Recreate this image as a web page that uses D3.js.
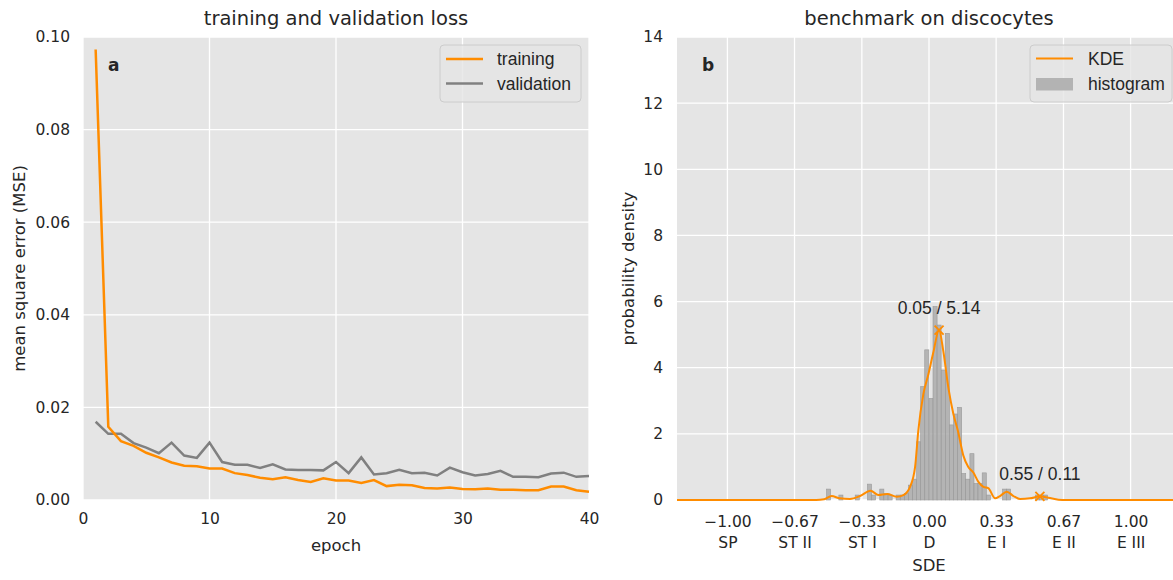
<!DOCTYPE html>
<html>
<head>
<meta charset="utf-8">
<script src="https://cdn.jsdelivr.net/npm/d3@7"></script>
<style>
  body { margin: 0; background: #fff; }
  svg { display: block; }
</style>
</head>
<body>
<svg id="fig" width="1173" height="580"></svg>
<script>
// panel a: loss per epoch
var epochs = [1,2,3,4,5,6,7,8,9,10,11,12,13,14,15,16,17,18,19,20,
              21,22,23,24,25,26,27,28,29,30,31,32,33,34,35,36,37,38,39,40];
var trainingLoss = [0.0973,0.0158,0.0127,0.0117,0.0102,0.0092,0.0081,0.0074,0.0073,0.0068,
                    0.0068,0.0058,0.0054,0.0048,0.0045,0.0049,0.0043,0.0039,0.0047,0.0042,
                    0.0042,0.0037,0.0043,0.0030,0.0033,0.0032,0.0026,0.0025,0.0027,0.0024,
                    0.0023,0.0025,0.0022,0.0022,0.0021,0.0021,0.0029,0.0029,0.0021,0.0018];
var validationLoss = [0.0169,0.0143,0.0143,0.0123,0.0113,0.0101,0.0124,0.0096,0.0091,0.0124,
                      0.0082,0.0076,0.0076,0.0069,0.0077,0.0066,0.0065,0.0065,0.0064,0.0082,
                      0.0058,0.0092,0.0055,0.0058,0.0065,0.0058,0.0059,0.0053,0.0070,0.0060,
                      0.0053,0.0056,0.0063,0.0050,0.0050,0.0049,0.0057,0.0059,0.0050,0.0052];
var lossTicksX = [0,10,20,30,40];
var lossTicksY = [0,0.02,0.04,0.06,0.08,0.10];

// panel b: histogram (bin centers / density) and KDE
var binWidth = 0.0203;
var histCenters = [-0.498,-0.437,-0.356,-0.295,-0.275,-0.234,-0.214,-0.193,-0.153,-0.132,
                   -0.112,-0.092,-0.072,-0.051,-0.031,-0.011,0.010,0.030,0.050,0.071,
                   0.091,0.111,0.132,0.152,0.172,0.192,0.213,0.233,0.253,0.274,
                   0.294,0.375,0.395,0.538,0.558,0.578];
var histDensity = [0.33,0.15,0.15,0.48,0.15,0.33,0.20,0.15,0.15,0.15,
                   0.20,0.45,0.63,1.76,3.43,4.54,3.07,5.85,5.29,3.93,
                   5.04,2.27,2.60,2.80,0.80,0.63,1.40,0.50,0.50,0.82,
                   0.15,0.33,0.33,0.15,0.15,0.15];
var kdeX = [-1.25,-0.56,-0.52,-0.483,-0.443,-0.392,-0.342,-0.290,-0.251,-0.207,
            -0.160,-0.127,-0.094,-0.069,-0.053,-0.028,-0.003,0.021,0.05,0.071,
            0.096,0.121,0.145,0.170,0.195,0.220,0.245,0.270,0.294,0.328,
            0.352,0.386,0.419,0.452,0.501,0.55,0.592,0.642,0.68,1.25];
var kdeY = [0,0,0.02,0.12,0.05,0.03,0.12,0.28,0.15,0.18,
            0.10,0.15,0.40,1.0,2.1,3.2,3.8,4.45,5.14,4.5,
            3.4,2.6,2.05,1.35,1.0,0.83,0.55,0.40,0.36,0.05,
            0.12,0.25,0.12,0.03,0.05,0.11,0.07,0.01,0,0];
var peaks = [{x: 0.05, y: 5.14, label: "0.05 / 5.14"}, {x: 0.55, y: 0.11, label: "0.55 / 0.11"}];
var sdeTicks = [-1, -0.667, -0.333, 0, 0.333, 0.667, 1];
var sdeNum = ["\u22121.00","\u22120.67","\u22120.33","0.00","0.33","0.67","1.00"];
var sdeName = ["SP","ST II","ST I","D","E I","E II","E III"];
var densTicks = [0,2,4,6,8,10,12,14];

var orange = "#ff8c00", grey = "#808080", txt = "#262626";
var dejavu = "DejaVu Sans, sans-serif", arial = "Liberation Sans, Arial, sans-serif";

var svg = d3.select("#fig");

function panel(left, top, w, h) {
  var g = svg.append("g").attr("transform", "translate(" + left + "," + top + ")");
  g.append("rect").attr("width", w).attr("height", h).attr("fill", "#e5e5e5");
  return g;
}

function grid(g, x, y, xt, yt, w, h) {
  g.selectAll(".gx").data(xt).enter().append("line")
    .attr("x1", function(d){ return x(d); }).attr("x2", function(d){ return x(d); })
    .attr("y1", 0).attr("y2", h).attr("stroke", "#fff").attr("stroke-width", 1.3);
  g.selectAll(".gy").data(yt).enter().append("line")
    .attr("x1", 0).attr("x2", w)
    .attr("y1", function(d){ return y(d); }).attr("y2", function(d){ return y(d); })
    .attr("stroke", "#fff").attr("stroke-width", 1.3);
}

// ---------- panel a ----------
var aw = 506, ah = 463;
var ga = panel(83, 37, aw, ah);
var xa = d3.scaleLinear().domain([0, 40]).range([0, aw]);
var ya = d3.scaleLinear().domain([0, 0.10]).range([ah, 0]);
grid(ga, xa, ya, lossTicksX, lossTicksY, aw, ah);

var lineA = d3.line().x(function(d){ return xa(d[0]); }).y(function(d){ return ya(d[1]); });
ga.append("path").datum(d3.zip(epochs, validationLoss)).attr("d", lineA)
  .attr("fill", "none").attr("stroke", grey).attr("stroke-width", 2.5);
ga.append("path").datum(d3.zip(epochs, trainingLoss)).attr("d", lineA)
  .attr("fill", "none").attr("stroke", orange).attr("stroke-width", 2.5);

var axA = ga.append("g").attr("transform", "translate(0," + ah + ")")
  .call(d3.axisBottom(xa).tickValues(lossTicksX).tickSize(0).tickPadding(13));
var ayA = ga.append("g")
  .call(d3.axisLeft(ya).tickValues(lossTicksY).tickFormat(d3.format(".2f")).tickSize(0).tickPadding(13));
[axA, ayA].forEach(function(a){
  a.select(".domain").remove();
  a.selectAll("text").attr("fill", txt).style("font-family", dejavu).style("font-size", "15.5px");
});

ga.append("text").attr("x", 25).attr("y", 34).text("a")
  .style("font-family", dejavu).style("font-weight", "bold").style("font-size", "17px").attr("fill", txt);

svg.append("text").attr("x", 83 + aw/2).attr("y", 25).attr("text-anchor", "middle")
  .text("training and validation loss").style("font-family", dejavu).style("font-size", "19.5px").attr("fill", txt);
svg.append("text").attr("x", 83 + aw/2).attr("y", 551).attr("text-anchor", "middle")
  .text("epoch").style("font-family", dejavu).style("font-size", "16.5px").attr("fill", txt);
svg.append("text").attr("transform", "translate(25," + (37 + ah/2) + ") rotate(-90)").attr("text-anchor", "middle")
  .text("mean square error (MSE)").style("font-family", dejavu).style("font-size", "16.5px").attr("fill", txt);

// legend a
var legA = ga.append("g").attr("transform", "translate(357,8)");
legA.append("rect").attr("width", 141).attr("height", 57).attr("rx", 4)
  .attr("fill", "#e5e5e5").attr("fill-opacity", 0.8).attr("stroke", "#cccccc");
[["training", orange], ["validation", grey]].forEach(function(d, i){
  legA.append("line").attr("x1", 6).attr("x2", 43).attr("y1", 14 + i*24.5).attr("y2", 14 + i*24.5)
    .attr("stroke", d[1]).attr("stroke-width", 2.5);
  legA.append("text").attr("x", 57).attr("y", 20 + i*24.5).text(d[0])
    .style("font-family", arial).style("font-size", "17.5px").attr("fill", txt);
});

// ---------- panel b ----------
var bw = 504, bh = 463;
var gb = panel(677, 37, bw, bh);
var xb = d3.scaleLinear().domain([-1.25, 1.25]).range([0, bw]);
var yb = d3.scaleLinear().domain([0, 14]).range([bh, 0]);
grid(gb, xb, yb, sdeTicks, densTicks, bw, bh);

gb.selectAll(".bar").data(d3.zip(histCenters, histDensity)).enter().append("rect")
  .attr("x", function(d){ return xb(d[0] - binWidth/2); })
  .attr("width", function(d){ return xb(d[0] + binWidth/2) - xb(d[0] - binWidth/2); })
  .attr("y", function(d){ return yb(d[1]); })
  .attr("height", function(d){ return bh - yb(d[1]); })
  .attr("fill", "#ababab").attr("fill-opacity", 0.85)
  .attr("stroke", "#999").attr("stroke-width", 0.6);

var lineB = d3.line().curve(d3.curveMonotoneX)
  .x(function(d){ return xb(d[0]); }).y(function(d){ return yb(d[1]); });
gb.append("path").datum(d3.zip(kdeX, kdeY)).attr("d", lineB)
  .attr("fill", "none").attr("stroke", orange).attr("stroke-width", 2);

peaks.forEach(function(p, i){
  var px = xb(p.x), py = yb(p.y), s = 4.5;
  gb.append("path").attr("d", "M" + (px-s) + "," + (py-s) + "L" + (px+s) + "," + (py+s) +
                               "M" + (px-s) + "," + (py+s) + "L" + (px+s) + "," + (py-s))
    .attr("stroke", orange).attr("stroke-width", 1.8);
  gb.append("text").attr("x", px).attr("y", py - 16).attr("text-anchor", "middle").text(p.label)
    .style("font-family", arial).style("font-size", "17.5px").attr("fill", txt);
});

var axB = gb.append("g").attr("transform", "translate(0," + bh + ")")
  .call(d3.axisBottom(xb).tickValues(sdeTicks).tickFormat("").tickSize(0));
axB.selectAll(".tick").each(function(d, i){
  var t = d3.select(this);
  t.append("text").attr("y", 27).attr("text-anchor", "middle").text(sdeNum[i]);
  t.append("text").attr("y", 48).attr("text-anchor", "middle").text(sdeName[i]);
});
var ayB = gb.append("g")
  .call(d3.axisLeft(yb).tickValues(densTicks).tickSize(0).tickPadding(14));
[axB, ayB].forEach(function(a){
  a.select(".domain").remove();
  a.selectAll("text").attr("fill", txt).style("font-family", dejavu).style("font-size", "15.5px");
});

gb.append("text").attr("x", 25).attr("y", 34).text("b")
  .style("font-family", dejavu).style("font-weight", "bold").style("font-size", "17px").attr("fill", txt);

svg.append("text").attr("x", 929).attr("y", 25).attr("text-anchor", "middle")
  .text("benchmark on discocytes").style("font-family", dejavu).style("font-size", "19.5px").attr("fill", txt);
svg.append("text").attr("x", 929).attr("y", 571).attr("text-anchor", "middle")
  .text("SDE").style("font-family", dejavu).style("font-size", "16.5px").attr("fill", txt);
svg.append("text").attr("transform", "translate(634," + (37 + bh/2) + ") rotate(-90)").attr("text-anchor", "middle")
  .text("probability density").style("font-family", dejavu).style("font-size", "16.5px").attr("fill", txt);

// legend b
var legB = gb.append("g").attr("transform", "translate(353,8)");
legB.append("rect").attr("width", 142).attr("height", 57).attr("rx", 4)
  .attr("fill", "#e5e5e5").attr("fill-opacity", 0.8).attr("stroke", "#cccccc");
legB.append("line").attr("x1", 6).attr("x2", 43).attr("y1", 13.5).attr("y2", 13.5)
  .attr("stroke", orange).attr("stroke-width", 2);
legB.append("rect").attr("x", 6).attr("y", 33).attr("width", 37).attr("height", 12.5)
  .attr("fill", "#b3b3b3");
legB.append("text").attr("x", 58).attr("y", 19.5).text("KDE")
  .style("font-family", arial).style("font-size", "17.5px").attr("fill", txt);
legB.append("text").attr("x", 58).attr("y", 45).text("histogram")
  .style("font-family", arial).style("font-size", "17.5px").attr("fill", txt);
</script>
</body>
</html>
